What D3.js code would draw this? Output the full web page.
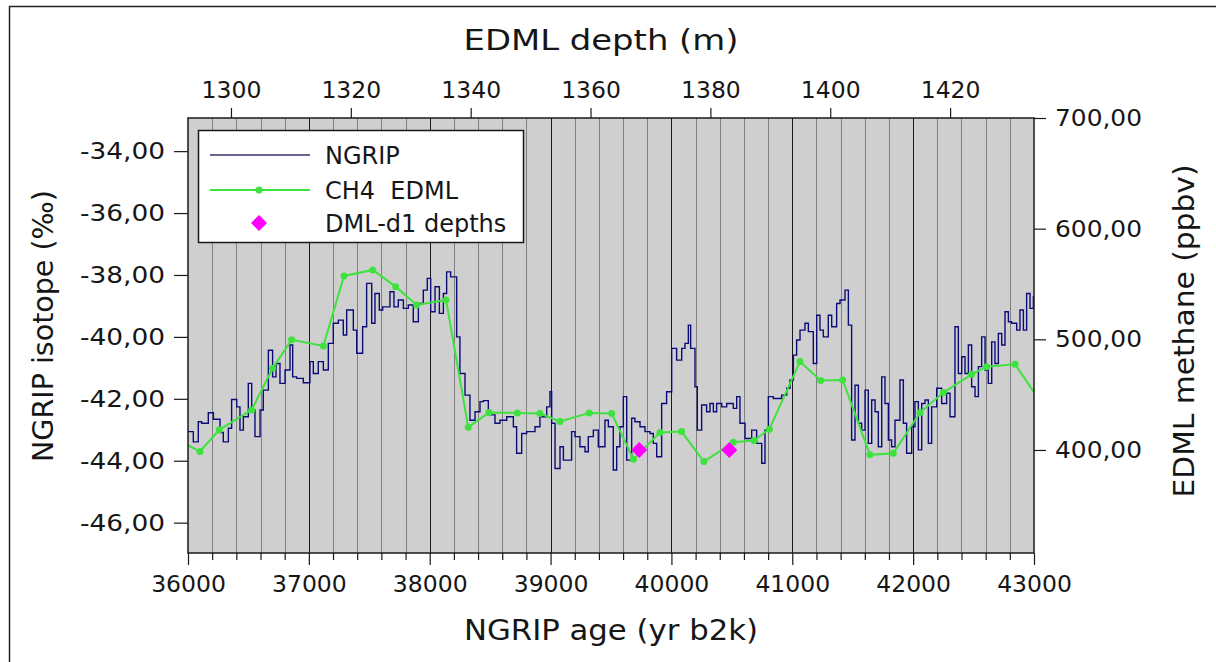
<!DOCTYPE html>
<html><head><meta charset="utf-8">
<script src="https://cdn.jsdelivr.net/npm/d3@7"></script>
<style>
html,body{margin:0;padding:0;background:#fff;}
svg{display:block;font-family:"DejaVu Sans",sans-serif;}
</style></head><body>
<svg id="chart" width="1216" height="662"></svg>
<script>
// ---------- DATA ----------
const ageTicks = [36000,37000,38000,39000,40000,41000,42000,43000];
const depthTicks = [1300,1320,1340,1360,1380,1400,1420];
const isoTicks = [-34,-36,-38,-40,-42,-44,-46];
const ch4Ticks = [400,500,600,700];

const ngripAge = [36000,36044,36085,36113,36168,36210,36265,36292,36334,36361,36403,36430,36458,36499,36527,36554,36596,36623,36665,36700,36728,36761,36803,36844,36866,36899,36954,37009,37037,37078,37120,37161,37202,37244,37285,37313,37368,37396,37445,37478,37520,37547,37583,37611,37671,37704,37740,37782,37823,37864,37906,37947,37980,38008,38044,38080,38113,38140,38173,38223,38250,38292,38333,38375,38416,
38444,38485,38540,38581,38637,38692,38719,38761,38802,38871,38912,38968,38995,39009,39037,39078,39106,39174,39202,39243,39285,39312,39354,39395,39450,39478,39519,39547,39574,39602,39630,39671,39698,39740,39781,39823,39850,39878,39919,39960,40002,40043,40085,40112,40140,40159,40195,40214,40250,40291,40319,40347,40374,40416,40457,40512,40540,40567,40609,40664,40705,40747,40774,40802,40843,
40871,40912,40954,40981,41009,41036,41064,41105,41133,41174,41202,41229,41257,41298,41326,41367,41395,41436,41464,41491,41519,41547,41574,41602,41629,41657,41685,41712,41740,41767,41795,41822,41850,41891,41919,41946,41988,42015,42043,42071,42098,42126,42153,42195,42236,42277,42305,42346,42374,42402,42429,42457,42484,42512,42540,42567,42595,42622,42650,42677,42705,42733,42760,42788,42815,42857,42884,42912,42939,42967,42995,43000];
const ngripIso = [-43.06,-43.39,-42.74,-42.79,-42.45,-42.66,-43.09,-43.39,-42.95,-42.02,-42.26,-43.01,-42.58,-41.50,-42.36,-43.22,-42.36,-41.72,-40.43,-41.29,-40.86,-41.50,-41.07,-40.26,-41.29,-41.34,-41.48,-40.80,-41.18,-40.80,-41.07,-40.21,-39.56,-39.46,-39.94,-39.13,-39.78,-40.53,-39.67,-38.27,-39.56,-38.60,-39.13,-39.03,-38.54,-39.03,-38.81,-39.08,-38.97,-39.51,-38.92,-38.49,-38.11,-39.19,-38.38,-39.24,-38.60,-37.90,-38.06,-40.00,-41.18,-41.88,-42.69,-42.42,-42.09,
-42.06,-42.52,-42.79,-42.69,-42.58,-42.90,-43.76,-43.12,-43.06,-42.90,-42.58,-42.26,-41.77,-42.79,-44.25,-43.55,-43.98,-43.06,-43.22,-43.55,-43.71,-43.22,-43.01,-43.55,-42.69,-42.90,-44.30,-43.55,-42.90,-41.93,-43.98,-42.63,-42.74,-42.90,-43.06,-43.12,-43.44,-43.87,-42.15,-41.77,-40.37,-40.75,-40.37,-40.21,-39.62,-40.37,-41.61,-43.01,-42.20,-42.42,-42.15,-42.42,-42.15,-42.26,-42.15,-42.31,-41.93,-42.79,-43.28,-43.01,-43.44,-44.08,-43.01,-41.93,-41.99,
-41.99,-41.88,-41.66,-41.39,-40.59,-40.10,-39.78,-39.56,-39.83,-40.86,-39.30,-39.78,-40.00,-39.30,-39.67,-38.92,-38.81,-38.49,-39.62,-43.33,-41.56,-42.79,-43.01,-41.72,-43.44,-42.04,-42.42,-43.55,-41.29,-42.15,-43.33,-43.55,-42.69,-41.39,-42.79,-43.76,-42.90,-42.09,-43.65,-42.15,-42.04,-43.44,-42.26,-41.66,-42.15,-41.82,-42.58,-39.67,-41.18,-40.64,-41.18,-40.26,-41.61,-41.93,-40.96,-40.00,-41.07,-41.50,-40.16,-40.86,-39.89,-40.26,-39.19,-39.51,-39.56,-39.78,-39.13,-39.78,-38.60,-39.08,-38.70,-38.70];

const ch4Age = [35900,36099,36259,36527,36700,36857,37120,37291,37528,37718,37892,38135,38319,38490,38725,38912,39078,39320,39506,39685,39905,40084,40269,40512,40683,40810,41064,41235,41417,41643,41836,42057,42250,42484,42608,42843,43100];
const ch4Val = [410,398.6,418.2,436.2,473.9,499.5,494.0,557.3,562.7,547.6,531.1,535.6,420.6,433.8,433.5,432.9,425.7,433.5,432.9,391.7,415.7,416.6,389.5,407.0,408.5,418.8,479.9,462.7,463.3,395.6,397.1,433.8,451.9,468.4,475.3,477.5,436];

const dmlAge = [39734,40479];
const dmlCh4 = [400,400];

const legendLabels = ["NGRIP","CH4  EDML","DML-d1 depths"];

// ---------- LAYOUT ----------
const L = 188, R = 1034, T = 118, B = 553;
const svg = d3.select("#chart");
const FONT = 23;
const INK = "#161616";

const x = d3.scaleLinear().domain([36000,43000]).range([L,R]);
const xDepth = d3.scaleLinear().domain([1292.83,1434.0]).range([L,R]);
const yIso = d3.scaleLinear().domain([-46.98,-32.93]).range([B,T]);
const yCh4 = d3.scaleLinear().domain([306.9,700]).range([B,T]);

// outer frame (left + top)
svg.append("path").attr("d",`M9.5,662 V6.5 H1216`).attr("fill","none").attr("stroke","#222").attr("stroke-width",1.5);

// plot background
svg.append("rect").attr("x",L).attr("y",T).attr("width",R-L).attr("height",B-T).attr("fill","#cfcfcf");

// vertical grid
const gridVals = d3.range(36200,43000,200);
svg.append("g").selectAll("line").data(gridVals).join("line")
  .attr("x1",d=>Math.round(x(d))+0.5).attr("x2",d=>Math.round(x(d))+0.5)
  .attr("y1",T).attr("y2",B)
  .attr("stroke",d=>d%1000===0?"#1a1a1a":"#7f7f7f").attr("stroke-width",1);

// clip
svg.append("clipPath").attr("id","clip").append("rect").attr("x",L).attr("y",T).attr("width",R-L).attr("height",B-T);
const plot = svg.append("g").attr("clip-path","url(#clip)");

// NGRIP step line
const ngrip = ngripAge.map((a,i)=>[a,ngripIso[i]]).filter(d=>d[1]!==undefined);
plot.append("path").datum(ngrip)
  .attr("d",d3.line().x(d=>x(d[0])).y(d=>yIso(d[1])).curve(d3.curveStepAfter))
  .attr("fill","none").attr("stroke","#0c0c78").attr("stroke-width",1.4);

// CH4 line + points
const ch4 = ch4Age.map((a,i)=>[a,ch4Val[i]]);
const green = "#3ee23e";
plot.append("path").datum(ch4)
  .attr("d",d3.line().x(d=>x(d[0])).y(d=>yCh4(d[1])))
  .attr("fill","none").attr("stroke",green).attr("stroke-width",2);
plot.append("g").selectAll("circle").data(ch4).join("circle")
  .attr("cx",d=>x(d[0])).attr("cy",d=>yCh4(d[1])).attr("r",3.5).attr("fill",green);

// DML diamonds
const dml = dmlAge.map((a,i)=>[a,dmlCh4[i]]);
const dia = 8;
plot.append("g").selectAll("path").data(dml).join("path")
  .attr("d",d=>{const cx=x(d[0]), cy=yCh4(d[1]); return `M${cx},${cy-dia}L${cx+dia},${cy}L${cx},${cy+dia}L${cx-dia},${cy}Z`;})
  .attr("fill","#ff00ff");

// plot frame
svg.append("rect").attr("x",L).attr("y",T).attr("width",R-L).attr("height",B-T)
  .attr("fill","none").attr("stroke","#1a1a1a").attr("stroke-width",1.5);

// axes
const fmt = d=>d.toFixed(2).replace(".",",");
function style(g){
  g.select(".domain").remove();
  g.selectAll(".tick line").attr("stroke","#1a1a1a").attr("stroke-width",1.2);
  g.selectAll(".tick text").attr("fill",INK).attr("font-size",FONT).attr("font-family","DejaVu Sans");
}
svg.append("g").attr("transform",`translate(0,${B})`)
  .call(d3.axisBottom(x).tickValues(d3.range(36200,43000,200).filter(d=>d%1000!==0)).tickSize(7).tickFormat(""))
  .call(style);
svg.append("g").attr("transform",`translate(0,${B})`)
  .call(d3.axisBottom(x).tickValues(ageTicks).tickSize(12).tickPadding(10).tickFormat(d3.format("d")))
  .call(style)
  .selectAll(".tick text").attr("font-size",23.5);
svg.append("g").attr("transform",`translate(0,${T})`)
  .call(d3.axisTop(xDepth).tickValues(depthTicks).tickSize(10).tickPadding(10).tickFormat(d3.format("d")))
  .call(style)
  .selectAll(".tick text").attr("font-size",23.5);
svg.append("g").attr("transform",`translate(${L},0)`)
  .call(d3.axisLeft(yIso).tickValues(isoTicks).tickSize(14).tickPadding(9).tickFormat(fmt))
  .call(style)
  .selectAll(".tick text").attr("textLength",85).attr("lengthAdjust","spacingAndGlyphs");
svg.append("g").attr("transform",`translate(${R},0)`)
  .call(d3.axisRight(yCh4).tickValues(ch4Ticks).tickSize(12).tickPadding(9).tickFormat(fmt))
  .call(style)
  .selectAll(".tick text").attr("textLength",87).attr("lengthAdjust","spacingAndGlyphs");

// titles
const TF = 28;
svg.append("text").attr("x",(L+R)/2-10).attr("y",50).attr("text-anchor","middle").attr("font-size",TF).attr("fill",INK)
  .attr("textLength",275).attr("lengthAdjust","spacingAndGlyphs").text("EDML depth (m)");
svg.append("text").attr("x",(L+R)/2).attr("y",640).attr("text-anchor","middle").attr("font-size",TF).attr("fill",INK)
  .attr("textLength",294).attr("lengthAdjust","spacingAndGlyphs").text("NGRIP age (yr b2k)");
svg.append("text").attr("transform","translate(53,326) rotate(-90)").attr("text-anchor","middle").attr("font-size",TF).attr("fill",INK)
  .attr("textLength",272).attr("lengthAdjust","spacingAndGlyphs").text("NGRIP isotope (‰)");
svg.append("text").attr("transform","translate(1194,331) rotate(-90)").attr("text-anchor","middle").attr("font-size",TF).attr("fill",INK)
  .attr("textLength",333).attr("lengthAdjust","spacingAndGlyphs").text("EDML methane (ppbv)");

// legend
const lg = svg.append("g");
lg.append("rect").attr("x",198.5).attr("y",130.5).attr("width",325).attr("height",112).attr("fill","#fff").attr("stroke","#1a1a1a").attr("stroke-width",1.5);
const rows = [155,190,223];
lg.append("line").attr("x1",210).attr("x2",310).attr("y1",rows[0]).attr("y2",rows[0]).attr("stroke","#33336a").attr("stroke-width",1.4);
lg.append("line").attr("x1",210).attr("x2",310).attr("y1",rows[1]).attr("y2",rows[1]).attr("stroke",green).attr("stroke-width",2);
lg.append("circle").attr("cx",259).attr("cy",rows[1]).attr("r",3.5).attr("fill",green);
lg.append("path").attr("d",`M259,${rows[2]-8}L267,${rows[2]}L259,${rows[2]+8}L251,${rows[2]}Z`).attr("fill","#ff00ff");
lg.selectAll("text.lab").data(legendLabels).join("text").attr("class","lab")
  .attr("x",325).attr("y",(d,i)=>rows[i]).attr("dy","0.36em").attr("font-size",24).attr("fill",INK)
  .attr("xml:space","preserve").style("white-space","pre").text(d=>d);
</script>
</body></html>
